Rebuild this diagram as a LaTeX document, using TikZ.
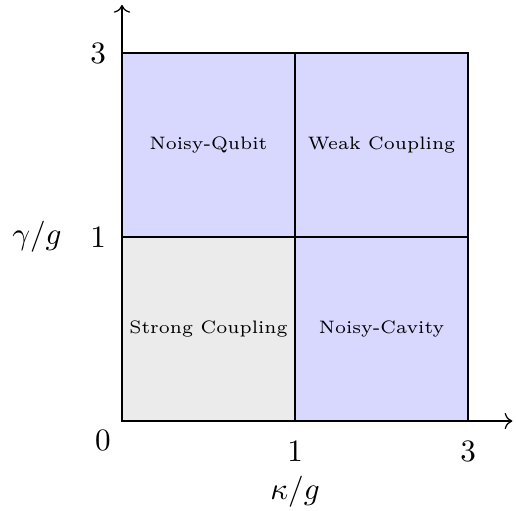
\documentclass[tikz,border=0pt]{standalone}
\usepackage{amsmath, amssymb}
\usepackage{xcolor}
\usepackage{tikz}
\usetikzlibrary{arrows.meta}
\definecolor{noisy}{RGB}{216, 216, 255}
\definecolor{strong}{RGB}{235, 235, 235}

\begin{document}
\begin{tikzpicture}[
    x = 1.955cm, y = 2.079cm,
    region/.style = {draw, line width=0.4pt},
    regionlabel/.style = {font=\fontsize{5.8}{7}\selectfont, align=center},
    axis/.style = {->}
  ]
    \useasboundingbox (-0.705,-0.484) rectangle (2.277,2.288);

    % regions
    \fill[strong] (0,0) rectangle (1,1);
    \fill[noisy] (1,0) rectangle (2,1);
    \fill[noisy] (0,1) rectangle (2,2);
    \draw[region] (0,0) rectangle (2,2);
    \draw[region] (1,0) -- (1,2);
    \draw[region] (0,1) -- (2,1);

    \node[regionlabel] (sc) at (0.5,0.5) {Strong Coupling};
    \node[regionlabel] (nc) at (1.5,0.5) {Noisy-Cavity};
    \node[regionlabel] (nq) at (0.5,1.5) {Noisy-Qubit};
    \node[regionlabel] (wc) at (1.5,1.5) {Weak Coupling};

    % axes
    \coordinate (o) at (0,0);
    \coordinate (xend) at (2.256,0);
    \coordinate (yend) at (0,2.261);
    \draw[axis] (o) -- (xend);
    \draw[axis] (o) -- (yend);

    \node (zero) at (-0.110,-0.103) {$0$};
    \node (xone) at (1,-0.163) {$1$};
    \node (xthree) at (2,-0.163) {$3$};
    \node (yone) at (-0.138,1) {$1$};
    \node (ythree) at (-0.138,2) {$3$};
    \node (xlab) at (1,-0.385) {$\kappa/g$};
    \node (ylab) at (-0.491,1) {$\gamma/g$};
  \end{tikzpicture}
\end{document}
